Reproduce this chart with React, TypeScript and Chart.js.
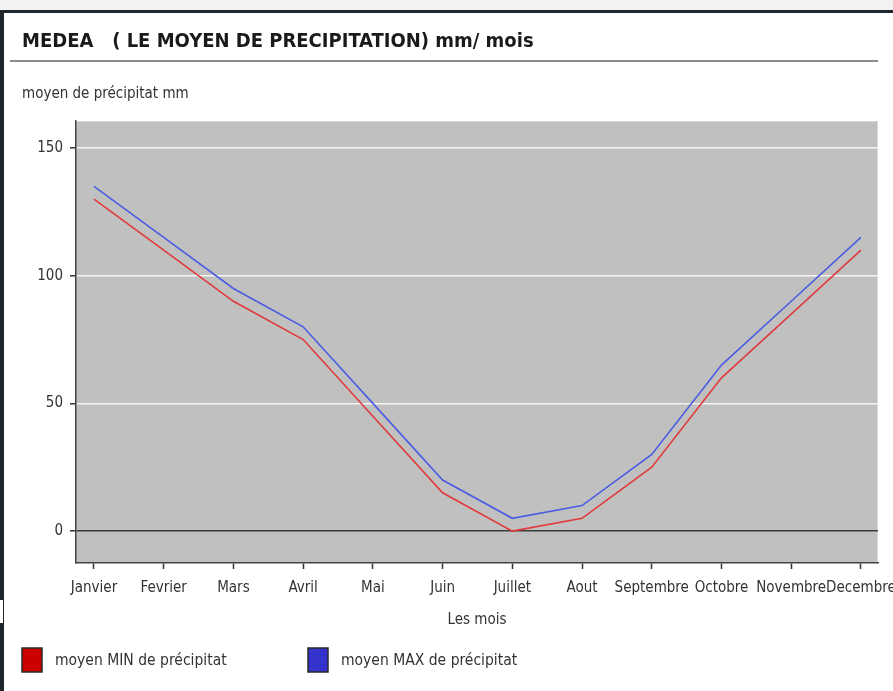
import React, { useEffect, useRef } from "react";
import { Chart, registerables } from "chart.js";

Chart.register(...registerables);

const months = [
  "Janvier", "Fevrier", "Mars", "Avril", "Mai", "Juin",
  "Juillet", "Aout", "Septembre", "Octobre", "Novembre", "Decembre",
];
const minValues = [130, 110, 90, 75, 45, 15, 0, 5, 25, 60, 85, 110];
const maxValues = [135, 115, 95, 80, 50, 20, 5, 10, 30, 65, 90, 115];
const yTickValues = [0, 50, 100, 150];
const chartTitle = "MEDEA   ( LE MOYEN DE PRECIPITATION) mm/ mois";
const yAxisTitle = "moyen de précipitat mm";
const xAxisTitle = "Les mois";
const seriesLabels = ["moyen MIN de précipitat", "moyen MAX de précipitat"];

const FONT = "'DejaVu Sans Condensed', 'DejaVu Sans', sans-serif";

const frame = {
  id: "frame",
  beforeDraw(chart: any) {
    const { ctx, width, height, chartArea } = chart;
    ctx.save();
    ctx.fillStyle = "#ffffff";
    ctx.fillRect(0, 0, width, height);
    ctx.fillStyle = "#f2f2f2";
    ctx.fillRect(0, 0, width, 10);
    ctx.fillStyle = "#1f272d";
    ctx.fillRect(0, 10, width, 3);
    ctx.fillRect(0, 10, 4, height - 10);
    ctx.fillStyle = "#ffffff";
    ctx.fillRect(0, 600, 3, 23);
    // plot background
    ctx.fillStyle = "#c0c0c0";
    ctx.fillRect(chartArea.left, chartArea.top, chartArea.right - chartArea.left, chartArea.bottom - chartArea.top);
    ctx.strokeStyle = "#d8d8d8";
    ctx.lineWidth = 1;
    ctx.beginPath();
    ctx.moveTo(chartArea.left, chartArea.top + 0.5);
    ctx.lineTo(chartArea.right - 0.5, chartArea.top + 0.5);
    ctx.lineTo(chartArea.right - 0.5, chartArea.bottom);
    ctx.stroke();
    // title
    ctx.fillStyle = "#1a1a1a";
    ctx.font = `bold 20px ${FONT}`;
    ctx.textBaseline = "middle";
    ctx.textAlign = "left";
    ctx.fillText(chartTitle, 22, 42);
    // underline
    ctx.fillStyle = "#8c8c8c";
    ctx.fillRect(10, 60, 868, 2);
    // y axis title
    ctx.fillStyle = "#333333";
    ctx.font = `15px ${FONT}`;
    ctx.fillText(yAxisTitle, 22, 94);
    ctx.restore();
  },
  afterDraw(chart: any) {
    const { ctx } = chart;
    const xs = [22, 308];
    ctx.save();
    chart.data.datasets.forEach((ds: any, i: number) => {
      const x = xs[i];
      ctx.fillStyle = ds.legendColor;
      ctx.fillRect(x, 648, 20, 24);
      ctx.strokeStyle = "#2a2a2a";
      ctx.lineWidth = 1.5;
      ctx.strokeRect(x, 648, 20, 24);
      ctx.fillStyle = "#333333";
      ctx.font = `15.5px ${FONT}`;
      ctx.textBaseline = "middle";
      ctx.textAlign = "left";
      ctx.fillText(ds.label, x + 33, 661);
    });
    ctx.restore();
  },
};

export default function App() {
  const ref = useRef<HTMLCanvasElement | null>(null);
  useEffect(() => {
    if (!ref.current) return;
    const chart = new Chart(ref.current, {
      type: "line",
      data: {
        datasets: [
          {
            label: seriesLabels[0],
            data: minValues.map((v, i) => ({ x: i, y: v })),
            borderColor: "#e03a3c",
            legendColor: "#cc0000",
            borderWidth: 1.6,
            pointRadius: 0,
            tension: 0,
          } as any,
          {
            label: seriesLabels[1],
            data: maxValues.map((v, i) => ({ x: i, y: v })),
            borderColor: "#4a5ce2",
            legendColor: "#3333cc",
            borderWidth: 1.6,
            pointRadius: 0,
            tension: 0,
          } as any,
        ],
      },
      options: {
        animation: false,
        responsive: false,
        layout: { padding: { left: 0, right: 15, top: 121, bottom: 48 } },
        plugins: {
          legend: { display: false },
          tooltip: { enabled: false },
          title: { display: false },
        },
        scales: {
          x: {
            type: "linear",
            min: -0.258,
            max: 11.245,
            afterBuildTicks: (scale: any) => {
              scale.ticks = months.map((_, i) => ({ value: i }));
            },
            afterFit: (scale: any) => {
              scale.height = 80;
              scale.paddingLeft = 0;
              scale.paddingRight = 0;
            },
            ticks: {
              autoSkip: false,
              maxRotation: 0,
              minRotation: 0,
              padding: 10,
              color: "#333333",
              font: { family: FONT, size: 15 },
              callback: (v: any) => months[v as number] ?? "",
            },
            grid: {
              drawOnChartArea: false,
              drawTicks: true,
              tickLength: 6,
              tickColor: "#333333",
              tickWidth: 1.5,
            },
            border: { display: true, color: "#444444", width: 1.5 },
            title: {
              display: true,
              text: xAxisTitle,
              color: "#333333",
              font: { family: FONT, size: 15 },
              padding: { top: 0, bottom: 14 },
            },
          },
          y: {
            type: "linear",
            min: -12.5,
            max: 160.6,
            afterBuildTicks: (scale: any) => {
              scale.ticks = yTickValues.map((v) => ({ value: v }));
            },
            afterFit: (scale: any) => {
              scale.width = 76;
              scale.paddingTop = 0;
              scale.paddingBottom = 0;
            },
            ticks: {
              padding: 7,
              color: "#333333",
              font: { family: FONT, size: 15 },
            },
            grid: {
              color: (c: any) => (c.tick && c.tick.value === 0 ? "#3a3a3a" : "#f4f4f4"),
              lineWidth: 1.5,
              drawTicks: true,
              tickLength: 6,
              tickColor: "#333333",
              tickWidth: 1.5,
            },
            border: { display: true, color: "#444444", width: 1.5 },
          },
        },
      },
      plugins: [frame],
    } as any);
    return () => chart.destroy();
  }, []);
  return (
    <div style={{ position: "fixed", left: 0, top: 0, width: 893, height: 691, background: "#fff" }}>
      <canvas ref={ref} width={893} height={691} style={{ display: "block" }} />
    </div>
  );
}
